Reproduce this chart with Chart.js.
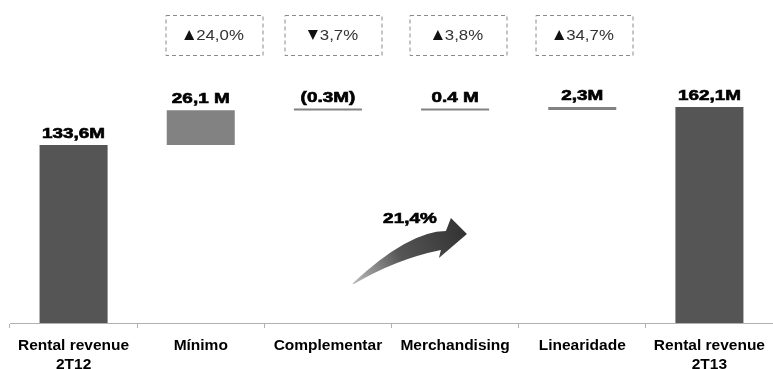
<!DOCTYPE html>
<html>
<head>
<meta charset="utf-8">
<script src="https://cdn.jsdelivr.net/npm/chart.js@4.4.1/dist/chart.umd.min.js"></script>
<style>
  html, body { margin: 0; padding: 0; background: #fff; }
  canvas { display: block; }
</style>
</head>
<body>
<canvas id="rentChart" width="773" height="369"></canvas>
<script>
// Rental revenue bridge, 2T12 -> 2T13 (R$ millions)
const categories = [['Rental revenue', '2T12'], 'Mínimo', 'Complementar', 'Merchandising', 'Linearidade', ['Rental revenue', '2T13']];
const openingRevenue = 133.6;
const changes = [26.1, -0.3, 0.4, 2.3];
const closingRevenue = 162.1;
const valueLabels = ['133,6M', '26,1 M', '(0.3M)', '0.4 M', '2,3M', '162,1M'];
const changePercents = ['24,0%', '3,7%', '3,8%', '34,7%'];
const changeUp = [true, false, true, true];
const growthLabel = '21,4%';

const FONT = "'Liberation Sans', Arial, sans-serif";

// build floating bars: totals from zero, changes stacked on the running sum
function buildBars() {
    const bars = [[0, openingRevenue]];
    let running = openingRevenue;
    changes.forEach(c => {
        bars.push([running, running + c]);
        running += c;
    });
    bars.push([0, closingRevenue]);
    return bars;
}

const barColors = categories.map((c, i) => (i === 0 || i === categories.length - 1) ? '#555555' : '#828282');

// text drawn a bit wider than the font, like the rest of the deck
function stretchedText(ctx, text, x, y, sx, heavy) {
    ctx.save();
    ctx.translate(x, y);
    ctx.scale(sx, 1);
    if (heavy) {
        ctx.lineWidth = 0.6;
        ctx.strokeStyle = ctx.fillStyle;
        ctx.strokeText(text, 0, 0);
    }
    ctx.fillText(text, 0, 0);
    ctx.restore();
}

const bridgeDecor = {
    id: 'bridgeDecor',
    afterDatasetsDraw(chart) {
        const ctx = chart.ctx;
        const bars = chart.getDatasetMeta(0).data;

        // value labels above each bar
        ctx.save();
        ctx.fillStyle = '#000';
        ctx.font = 'bold 14px ' + FONT;
        ctx.textAlign = 'center';
        ctx.textBaseline = 'alphabetic';
        bars.forEach((bar, i) => {
            const top = Math.min(bar.y, bar.base);
            stretchedText(ctx, valueLabels[i], bar.x, top - 7, 1.35, true);
        });
        ctx.restore();

        // dashed boxes with the change in percent
        const boxNudge = [13, 5, 3, 2];
        ctx.save();
        changePercents.forEach((txt, i) => {
            const bar = bars[i + 1];
            const cx = Math.round(bar.x + boxNudge[i]);
            const w = 97, h = 40, top = 15;
            const mid = top + h / 2;
            ctx.setLineDash([4, 3]);
            ctx.strokeStyle = '#8a8a8a';
            ctx.lineWidth = 1;
            ctx.strokeRect(cx - w / 2 + 0.5, top + 0.5, w, h);
            ctx.setLineDash([]);

            ctx.font = '14px ' + FONT;
            const numW = ctx.measureText(txt).width * 1.2;
            const triW = 10, gap = 2;
            const left = cx - (triW + gap + numW) / 2;

            // triangle marker
            ctx.fillStyle = '#111';
            ctx.beginPath();
            if (changeUp[i]) {
                ctx.moveTo(left, mid + 5);
                ctx.lineTo(left + triW, mid + 5);
                ctx.lineTo(left + triW / 2, mid - 5);
            } else {
                ctx.moveTo(left, mid - 5);
                ctx.lineTo(left + triW, mid - 5);
                ctx.lineTo(left + triW / 2, mid + 5);
            }
            ctx.closePath();
            ctx.fill();

            ctx.fillStyle = '#333';
            ctx.textAlign = 'left';
            ctx.textBaseline = 'alphabetic';
            stretchedText(ctx, txt, left + triW + gap, mid + 5, 1.2, false);
        });
        ctx.restore();

        // curved growth arrow next to the Complementar slot
        const ox = bars[2].x;
        const oy = chart.chartArea.bottom;
        ctx.save();
        ctx.translate(ox, oy);
        const grad = ctx.createLinearGradient(24, -40, 135, -95);
        grad.addColorStop(0, '#bdbdbd');
        grad.addColorStop(0.45, '#555555');
        grad.addColorStop(1, '#333333');
        ctx.fillStyle = grad;
        ctx.beginPath();
        ctx.moveTo(24.5, -39.5);
        ctx.quadraticCurveTo(81, -92, 118, -92);
        ctx.lineTo(123, -105);
        ctx.lineTo(139, -89);
        ctx.lineTo(111, -65);
        ctx.lineTo(113, -73);
        ctx.quadraticCurveTo(68.5, -64, 26, -39);
        ctx.closePath();
        ctx.fill();

        ctx.fillStyle = '#000';
        ctx.font = 'bold 14px ' + FONT;
        ctx.textAlign = 'center';
        ctx.textBaseline = 'alphabetic';
        stretchedText(ctx, growthLabel, 82, -100, 1.35, true);
        ctx.restore();
    }
};

const ctx = document.getElementById('rentChart').getContext('2d');
new Chart(ctx, {
    type: 'bar',
    data: {
        labels: categories,
        datasets: [{
            data: buildBars(),
            backgroundColor: barColors,
            borderWidth: 0,
            barPercentage: 0.535,
            categoryPercentage: 1,
            minBarLength: 2
        }]
    },
    options: {
        responsive: false,
        devicePixelRatio: 1,
        animation: false,
        layout: { padding: { left: 10, right: 0, top: 0, bottom: 0 } },
        plugins: {
            legend: { display: false },
            tooltip: { enabled: false }
        },
        scales: {
            y: { display: false, min: 0, max: 242.4 },
            x: {
                afterFit(axis) { axis.height = 46; },
                border: { color: '#b0b0b0', width: 1 },
                grid: {
                    offset: true,
                    drawOnChartArea: false,
                    tickLength: 5,
                    color: '#b0b0b0'
                },
                ticks: {
                    color: '#000',
                    padding: 8,
                    maxRotation: 0,
                    autoSkip: false,
                    font: { family: FONT, weight: 'bold', size: 15.5, lineHeight: 1.25 }
                }
            }
        }
    },
    plugins: [bridgeDecor]
});
</script>
</body>
</html>
